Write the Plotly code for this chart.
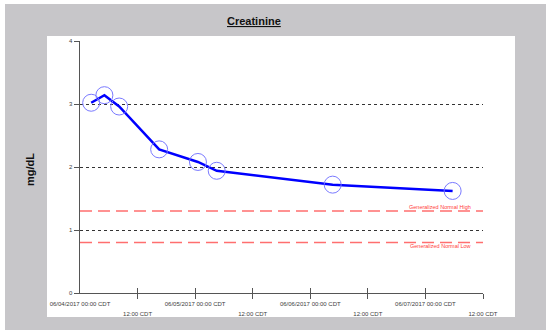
import plotly.graph_objects as go

# ---- data ----
times = ["2017-06-04 02:20", "2017-06-04 05:05", "2017-06-04 08:10", "2017-06-04 16:30",
         "2017-06-05 00:35", "2017-06-05 04:30", "2017-06-06 04:40", "2017-06-07 05:40"]
creatinine = [3.02, 3.14, 2.96, 2.28, 2.08, 1.94, 1.72, 1.62]

normal_high = 1.3
normal_low = 0.8

x_range = ["2017-06-04 00:00", "2017-06-07 12:00"]
day_ticks = ["2017-06-04 00:00", "2017-06-05 00:00", "2017-06-06 00:00", "2017-06-07 00:00"]
day_labels = ["06/04/2017 00:00 CDT", "06/05/2017 00:00 CDT", "06/06/2017 00:00 CDT", "06/07/2017 00:00 CDT"]
noon_ticks = ["2017-06-04 12:00", "2017-06-05 12:00", "2017-06-06 12:00", "2017-06-07 12:00"]
noon_labels = ["12:00 CDT"] * 4
mark_ticks = day_ticks[1:] + noon_ticks
y_ticks = [0, 1, 2, 3, 4]

# ---- layout geometry (pixels) ----
W, H = 550, 335
L, R, T, B = 80, 67, 41, 42
pw, ph = W - L - R, H - T - B


def px_x(px):
    return (px - L) / pw


def px_y(py):
    return (H - B - py) / ph


FONT = "Arial, Liberation Sans, sans-serif"
GRAY_TXT = "#404040"

fig = go.Figure()

# normal range lines
for val in (normal_high, normal_low):
    fig.add_trace(go.Scatter(
        x=x_range, y=[val, val], mode="lines",
        line=dict(color="#ff6f6f", width=1.5, dash="12px,6px"),
        hoverinfo="skip", showlegend=False))

# creatinine series
fig.add_trace(go.Scatter(
    x=times, y=creatinine, mode="lines+markers",
    line=dict(color="#0000ff", width=2.5),
    marker=dict(symbol="circle-open", size=17, color="#7a7aff", line=dict(width=1)),
    showlegend=False))

# invisible traces to activate overlay axes
for ax in ("x2", "x3", "x4"):
    fig.add_trace(go.Scatter(x=x_range, y=[None, None], xaxis=ax, yaxis="y",
                             mode="lines", showlegend=False, hoverinfo="skip"))

axis_common = dict(type="date", range=x_range, showgrid=False, zeroline=False)

fig.update_layout(
    width=W, height=H,
    margin=dict(l=L, r=R, t=T, b=B),
    paper_bgcolor="white",
    plot_bgcolor="rgba(0,0,0,0)",
    hovermode=False,
    font=dict(family=FONT, color=GRAY_TXT),
    xaxis=dict(**axis_common, showline=True, linecolor="#555555", linewidth=1,
               tickmode="array", tickvals=day_ticks, ticktext=day_labels,
               ticks="", tickfont=dict(size=6, family=FONT, color=GRAY_TXT),
               ticklabelstandoff=5),
    xaxis2=dict(**axis_common, overlaying="x", anchor="y", side="bottom",
                tickmode="array", tickvals=noon_ticks, ticktext=noon_labels,
                ticks="", tickfont=dict(size=6, family=FONT, color=GRAY_TXT),
                ticklabelstandoff=16),
    xaxis3=dict(**axis_common, overlaying="x", anchor="y", side="bottom",
                tickmode="array", tickvals=mark_ticks, showticklabels=False,
                ticks="outside", ticklen=5, tickcolor="#555555", tickwidth=1),
    xaxis4=dict(**axis_common, overlaying="x", anchor="y", side="bottom",
                tickmode="array", tickvals=mark_ticks, showticklabels=False,
                ticks="inside", ticklen=5, tickcolor="#555555", tickwidth=1),
    yaxis=dict(range=[0, 4], tickmode="array", tickvals=y_ticks,
               ticks="outside", ticklen=5, tickcolor="#555555",
               showline=True, linecolor="#555555", linewidth=1.5,
               showgrid=True, gridcolor="#333333", griddash="dot", gridwidth=1,
               zeroline=False, tickfont=dict(size=6, family=FONT, color=GRAY_TXT)),
    shapes=[
        dict(type="rect", xref="paper", yref="paper", layer="below",
             x0=px_x(5), x1=px_x(546), y0=px_y(330), y1=px_y(4),
             fillcolor="#c7c6c9", line=dict(width=0)),
        dict(type="rect", xref="paper", yref="paper", layer="below",
             x0=px_x(47), x1=px_x(515), y0=px_y(317), y1=px_y(36),
             fillcolor="white", line=dict(width=0)),
    ],
    annotations=[
        dict(text="<b><u>Creatinine</u></b>", xref="paper", yref="paper",
             x=px_x(253.5), y=px_y(21), xanchor="center", yanchor="middle",
             showarrow=False, font=dict(size=11, color="#111111", family=FONT)),
        dict(text="<b>mg/dL</b>", xref="paper", yref="paper",
             x=px_x(30), y=px_y(170), xanchor="center", yanchor="middle",
             textangle=-90, showarrow=False,
             font=dict(size=11, color="#111111", family=FONT)),
        dict(text="Generalized Normal High", xref="x", yref="y",
             x="2017-06-07 09:50", y=1.365, xanchor="right", yanchor="middle",
             showarrow=False, font=dict(size=5.5, color="#ff4040", family=FONT)),
        dict(text="Generalized Normal Low", xref="x", yref="y",
             x="2017-06-07 09:50", y=0.746, xanchor="right", yanchor="middle",
             showarrow=False, font=dict(size=5.5, color="#ff4040", family=FONT)),
    ],
)

fig.write_html("out.html",
               config={"displayModeBar": False, "staticPlot": True},
               post_script="document.body.style.margin='0';document.body.style.overflow='hidden';")
